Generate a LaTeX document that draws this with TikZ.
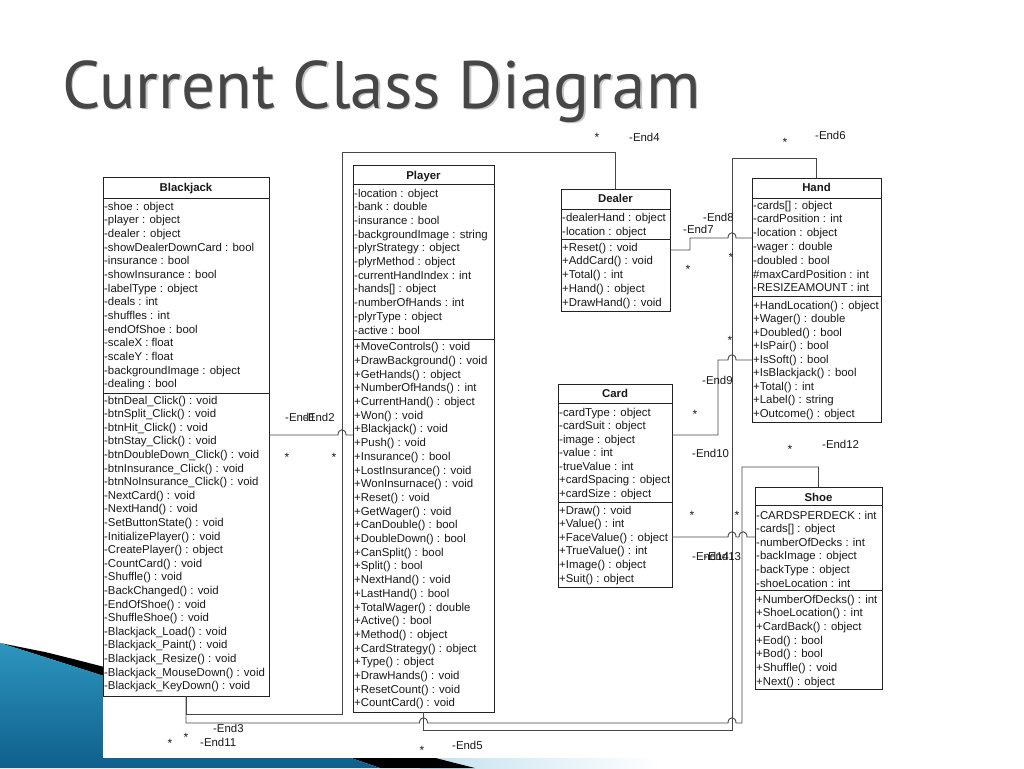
\documentclass[tikz,border=0pt]{standalone}
\usepackage{graphicx}
\usepackage{fontspec}
\setmainfont{Liberation Sans}
\newfontfamily\titlefont{PT Sans}
\definecolor{boxc}{RGB}{35,35,35}
\definecolor{conc}{RGB}{70,70,70}
\definecolor{txtc}{RGB}{25,25,25}
\definecolor{titc}{RGB}{70,70,70}
\definecolor{blueA}{RGB}{45,150,190}
\definecolor{blueB}{RGB}{15,95,140}
\definecolor{lightb}{RGB}{195,225,238}
\newcommand\membs[4]{\foreach \itm [count=\i from 0] in {#4} {\node[txt] at (#1,{#2+#3*\i}) {\itm};}}
\begin{document}
\begin{tikzpicture}[x=1pt,y=-1pt,
  box/.style={draw=boxc, line width=0.9pt, fill=white, inner sep=0, outer sep=0, anchor=north west},
  txt/.style={anchor=base west, inner sep=0, text=txtc, font=\fontsize{11.4}{13.7}\selectfont},
  ttl/.style={anchor=base, inner sep=0, text=txtc, font=\fontsize{11.4}{13.7}\selectfont\bfseries},
  sep/.style={draw=boxc, line width=0.9pt},
  con/.style={draw=conc, line width=0.9pt},
  lbl/.style={anchor=west, inner sep=0, text=txtc, font=\fontsize{11.4}{13.7}\selectfont},
  star/.style={inner sep=0, text=txtc, font=\fontsize{12}{12}\selectfont}]
\useasboundingbox (0,0) rectangle (1024,768);
\fill[white] (0,0) rectangle (1024,768);
% decoration bottom-left
\shade[left color=lightb, right color=white] (420,740) rectangle (660,768);
\fill[black] (45,652) .. controls (200,690) and (380,745) .. (475,768) -- (380,768) .. controls (300,740) and (150,690) .. (0,643) -- cycle;
\shade[top color=blueA, bottom color=blueB] (0,643) .. controls (150,690) and (300,740) .. (380,768) -- (0,768) -- cycle;
\fill[white] (103,120) rectangle (900,758);
% title
\node[anchor=base west, inner sep=0, text=gray!45] at (63.5,109.5) {\resizebox{638pt}{!}{\titlefont Current Class Diagram}};
\node[anchor=base west, inner sep=0, text=titc] at (62,108) {\resizebox{638pt}{!}{\titlefont Current Class Diagram}};

% ---------- Blackjack
\node[box, minimum width=166, minimum height=519] (bj) at (103,177) {};
\node[ttl] at (186,191) {Blackjack};
\draw[sep] (103,198) -- (269,198);
\draw[sep] (103,393) -- (269,393);
\membs{104}{210}{13.68}{-shoe : object,-player : object,-dealer : object,-showDealerDownCard : bool,-insurance : bool,-showInsurance : bool,-labelType : object,-deals : int,-shuffles : int,-endOfShoe : bool,-scaleX : float,-scaleY : float,-backgroundImage : object,-dealing : bool}
\membs{104}{404}{13.6}{-btnDeal\_Click() : void,-btnSplit\_Click() : void,-btnHit\_Click() : void,-btnStay\_Click() : void,-btnDoubleDown\_Click() : void,-btnInsurance\_Click() : void,-btnNoInsurance\_Click() : void,-NextCard() : void,-NextHand() : void,-SetButtonState() : void,-InitializePlayer() : void,-CreatePlayer() : object,-CountCard() : void,-Shuffle() : void,-BackChanged() : void,-EndOfShoe() : void,-ShuffleShoe() : void,-Blackjack\_Load() : void,-Blackjack\_Paint() : void,-Blackjack\_Resize() : void,-Blackjack\_MouseDown() : void,-Blackjack\_KeyDown() : void}

% ---------- Player
\node[box, minimum width=141, minimum height=547] (pl) at (353,165) {};
\node[ttl] at (423.5,179) {Player};
\draw[sep] (353,184) -- (494,184);
\draw[sep] (353,339) -- (494,339);
\membs{354}{197}{13.7}{-location : object,-bank : double,-insurance : bool,-backgroundImage : string,-plyrStrategy : object,-plyrMethod : object,-currentHandIndex : int,-hands[] : object,-numberOfHands : int,-plyrType : object,-active : bool}
\membs{354}{350.7}{13.7}{+MoveControls() : void,+DrawBackground() : void,+GetHands() : object,+NumberOfHands() : int,+CurrentHand() : object,+Won() : void,+Blackjack() : void,+Push() : void,+Insurance() : bool,+LostInsurance() : void,+WonInsurnace() : void,+Reset() : void,+GetWager() : void,+CanDouble() : bool,+DoubleDown() : bool,+CanSplit() : bool,+Split() : bool,+NextHand() : void,+LastHand() : bool,+TotalWager() : double,+Active() : bool,+Method() : object,+CardStrategy() : object,+Type() : object,+DrawHands() : void,+ResetCount() : void,+CountCard() : void}

% ---------- Dealer
\node[box, minimum width=109, minimum height=122] (dl) at (561,189) {};
\node[ttl] at (615.5,202) {Dealer};
\draw[sep] (561,209) -- (670,209);
\draw[sep] (561,239) -- (670,239);
\membs{562}{221}{14}{-dealerHand : object,-location : object}
\membs{562}{251}{13.75}{+Reset() : void,+AddCard() : void,+Total() : int,+Hand() : object,+DrawHand() : void}

% ---------- Hand
\node[box, minimum width=129, minimum height=244] (hd) at (752,178) {};
\node[ttl] at (816.5,191) {Hand};
\draw[sep] (752,198) -- (881,198);
\draw[sep] (752,296) -- (881,296);
\membs{753}{209}{13.8}{-cards[] : object,-cardPosition : int,-location : object,-wager : double,-doubled : bool,\#maxCardPosition : int,-RESIZEAMOUNT : int}
\membs{753}{309}{13.5}{+HandLocation() : object,+Wager() : double,+Doubled() : bool,+IsPair() : bool,+IsSoft() : bool,+IsBlackjack() : bool,+Total() : int,+Label() : string,+Outcome() : object}

% ---------- Card
\node[box, minimum width=114, minimum height=203] (cd) at (558,384) {};
\node[ttl] at (615,397) {Card};
\draw[sep] (558,403) -- (672,403);
\draw[sep] (558,502) -- (672,502);
\membs{559}{416}{13.5}{-cardType : object,-cardSuit : object,-image : object,-value : int,-trueValue : int,+cardSpacing : object,+cardSize : object}
\membs{559}{514}{13.6}{+Draw() : void,+Value() : int,+FaceValue() : object,+TrueValue() : int,+Image() : object,+Suit() : object}

% ---------- Shoe
\node[box, minimum width=127, minimum height=202] (sh) at (755,487) {};
\node[ttl] at (818.5,501) {Shoe};
\draw[sep] (755,505) -- (882,505);
\draw[sep] (755,590) -- (882,590);
\membs{756}{519}{13.6}{-CARDSPERDECK : int,-cards[] : object,-numberOfDecks : int,-backImage : object,-backType : object,-shoeLocation : int}
\membs{756}{603}{13.67}{+NumberOfDecks() : int,+ShoeLocation() : int,+CardBack() : object,+Eod() : bool,+Bod() : bool,+Shuffle() : void,+Next() : object}

% ---------- connectors
\draw[con] (bj.east |- 0,435) -- (338,435) .. controls (338,428) and (346,428) .. (346,435) -- (pl.west |- 0,435);
\draw[con] (bj.south) -- (186,714) -- (342,714) -- (342,152) -- (615.5,152) -- (dl.north);
\draw[con] (bj.south) -- (186,723) -- (419.5,723) .. controls (419.5,716) and (427.5,716) .. (427.5,723) -- (728,723) .. controls (728,716) and (736,716) .. (736,723) -- (742,723) -- (742,467) -- (818.5,467) -- (sh.north);
\draw[con] (pl.south) -- (423.5,730) -- (732,730) -- (732,158) -- (816.5,158) -- (hd.north);
\draw[con] (dl.east |- 0,250) -- (690,250) -- (690,238) -- (728,238) .. controls (728,231) and (736,231) .. (736,238) -- (hd.west |- 0,238);
\draw[con] (cd.east |- 0,435) -- (718,435) -- (718,360) -- (728,360) .. controls (728,353) and (736,353) .. (736,360) -- (hd.west |- 0,360);
\draw[con] (cd.east |- 0,537) -- (728,537) .. controls (728,530) and (736,530) .. (736,537) -- (739,537) .. controls (739,530) and (747,530) .. (747,537) -- (sh.west |- 0,537);

% ---------- end labels
\node[lbl] at (285,417) {-End1};
\node[lbl] at (304,417) {-End2};
\node[star] at (287,457) {*};
\node[star] at (334,457) {*};
\node[star] at (597,137) {*};
\node[lbl] at (629,137) {-End4};
\node[star] at (785,142) {*};
\node[lbl] at (815,135) {-End6};
\node[lbl] at (703,217) {-End8};
\node[lbl] at (683,229) {-End7};
\node[star] at (688,269) {*};
\node[star] at (731,257) {*};
\node[star] at (730,340) {*};
\node[lbl] at (702,380) {-End9};
\node[star] at (695,414) {*};
\node[lbl] at (692,453) {-End10};
\node[star] at (790,449) {*};
\node[lbl] at (822,444) {-End12};
\node[star] at (692,515) {*};
\node[star] at (737,515) {*};
\node[lbl] at (692,556) {-End14};
\node[lbl] at (704,556) {-End13};
\node[lbl] at (213,728) {-End3};
\node[star] at (186,737) {*};
\node[star] at (170,743) {*};
\node[lbl] at (200,742) {-End11};
\node[star] at (422,750) {*};
\node[lbl] at (452,745) {-End5};
\end{tikzpicture}
\end{document}
